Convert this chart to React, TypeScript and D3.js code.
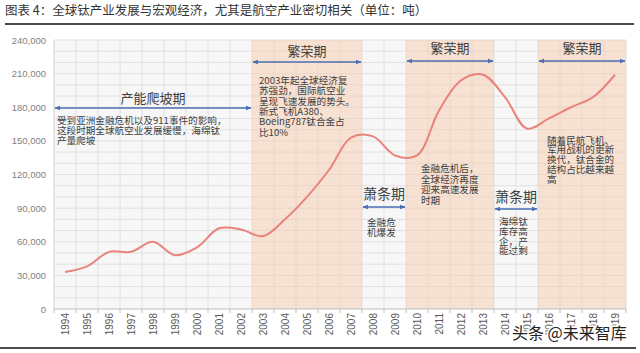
import React from 'react';
import * as d3 from 'd3';

const years = ['1994','1995','1996','1997','1998','1999','2000','2001','2002','2003','2004','2005','2006',
  '2007','2008','2009','2010','2011','2012','2013','2014','2015','2016','2017','2018','2019'];
const output = [33000, 38000, 51000, 51000, 60000, 48000, 55000, 72000, 71000, 65000, 80000, 100000, 124000,
  153000, 154000, 137000, 137000, 177000, 204000, 209000, 189000, 161000, 170000, 180000, 189000, 209000];
const yTicks = [0, 30000, 60000, 90000, 120000, 150000, 180000, 210000, 240000];

const periodNames = ['产能爬坡期', '繁荣期', '萧条期', '繁荣期', '萧条期', '繁荣期'];
const periodFrom = ['1994', '2003', '2008', '2010', '2014', '2016'];
const periodTo = ['2002', '2007', '2009', '2013', '2015', '2019'];
const periodBoom = [false, true, false, true, false, true];
const periodNotes = [
  ['受到亚洲金融危机以及911事件的影响，', '这段时期全球航空业发展缓慢，海绵钛', '产量爬坡'],
  ['2003年起全球经济复', '苏强劲，国际航空业', '呈现飞速发展的势头。', '新式飞机A380、', 'Boeing787钛合金占', '比10%'],
  ['金融危', '机爆发'],
  ['金融危机后，', '全球经济再度', '迎来高速发展', '时期'],
  ['海绵钛', '库存高', '企，产', '能过剩'],
  ['随着民航飞机、', '军用战机的更新', '换代，钛合金的', '结构占比越来越', '高'],
];

const title = '图表 4：全球钛产业发展与宏观经济，尤其是航空产业密切相关（单位：吨）';
const watermark = '头条 @未来智库';

// annotation block layout: title baseline, arrow y, note x, first note baseline, line height, title size
const layout = [
  { ty: 102.5, ay: 108, nx: 57, ny: 124, lh: 10.2, fs: 13 },
  { ty: 56, ay: 62, nx: 259, ny: 84, lh: 10.3, fs: 13 },
  { ty: 199, ay: 207, nx: 367, ny: 226, lh: 10.2, fs: 14 },
  { ty: 53, ay: 61, nx: 421, ny: 172, lh: 10.5, fs: 13 },
  { ty: 202, ay: 209, nx: 499, ny: 225, lh: 9.8, fs: 14 },
  { ty: 53, ay: 61, nx: 547, ny: 143.5, lh: 9.8, fs: 13 },
];

const FONT = '"Liberation Sans", Arial, "Noto Sans CJK SC", sans-serif';
const CJK = '"Noto Sans CJK SC", "Liberation Sans", sans-serif';

export default function App() {
  const W = 640, H = 353;
  const left = 54, right = 626, top = 40, bottom = 309;

  const x = d3.scaleBand<string>().domain(years).range([left, right]);
  const y = d3.scaleLinear().domain([0, 240000]).range([bottom, top]);
  const bw = x.bandwidth();

  const line = d3.line<number>()
    .x((_, i) => (x(years[i]) as number) + bw / 2)
    .y(d => y(d))
    .curve(d3.curveCatmullRom.alpha(0.5));

  const grid = d3.range(10000, 240001, 10000);
  const arrowColor = '#4a6fb3';

  return (
    <svg width={W} height={H} style={{ display: 'block', position: 'absolute', left: 0, top: 0 }}>
      <defs>
        <marker id="ah" viewBox="0 0 10 10" refX="9" refY="5" markerWidth="6" markerHeight="6"
          orient="auto-start-reverse" markerUnits="userSpaceOnUse">
          <path d="M0,1 L10,5 L0,9 z" fill={arrowColor} />
        </marker>
      </defs>
      <rect x={0} y={0} width={W} height={H} fill="#ffffff" />

      <text x={5} y={15} fontFamily={CJK} fontSize={12.5} fill="#333">{title}</text>
      <line x1={5} x2={634} y1={24} y2={24} stroke="#111" strokeWidth={1.5} />

      {/* plot background */}
      <rect x={left} y={top} width={right - left} height={bottom - top} fill="#f7f7f7" />

      {grid.map(v => (
        <line key={v} x1={left} x2={right} y1={y(v)} y2={y(v)} stroke="#e0e0e0" strokeWidth={1} />
      ))}
      {years.map(yr => (
        <line key={yr} x1={x(yr)! + bw} x2={x(yr)! + bw} y1={top} y2={bottom} stroke="#e0e0e0" strokeWidth={1} />
      ))}

      {periodFrom.map((f, i) => periodBoom[i] ? (
        <rect key={'s' + i} x={x(f)} y={top} width={x(periodTo[i])! + bw - x(f)!} height={bottom - top}
          fill="#f8cbad" opacity={0.5} />
      ) : null)}

      {/* axes */}
      <line x1={left} x2={right} y1={bottom} y2={bottom} stroke="#bfbfbf" />
      <line x1={left} x2={left} y1={top} y2={bottom} stroke="#d0d0d0" />
      {years.map(yr => (
        <line key={'t' + yr} x1={x(yr)!} x2={x(yr)!} y1={bottom} y2={bottom + 4} stroke="#bfbfbf" />
      ))}
      <line x1={right} x2={right} y1={bottom} y2={bottom + 4} stroke="#bfbfbf" />
      {yTicks.map(v => (
        <text key={v} x={46} y={y(v) + 3.5} textAnchor="end" fontFamily={FONT} fontSize={9.5} fill="#7f7f7f">
          {d3.format(',')(v)}
        </text>
      ))}
      {years.map(yr => (
        <text key={'l' + yr} transform={`translate(${x(yr)! + bw / 2 + 3.5},${bottom + 4}) rotate(-90)`}
          textAnchor="end" fontFamily={FONT} fontSize={10} fill="#595959">{yr}</text>
      ))}

      <path d={line(output) || ''} fill="none" stroke="#e9837c" strokeWidth={2} />

      {/* annotations */}
      {periodNames.map((name, i) => {
        const L = layout[i];
        const x0 = x(periodFrom[i])!;
        const x1 = x(periodTo[i])! + bw;
        return (
          <g key={'p' + i}>
            <text x={(x0 + x1) / 2} y={L.ty} textAnchor="middle" fontFamily={CJK} fontSize={L.fs}
              fill="#404040">{name}</text>
            <line x1={x0 + 1} x2={x1 - 1} y1={L.ay} y2={L.ay} stroke={arrowColor} strokeWidth={1.6}
              markerStart="url(#ah)" markerEnd="url(#ah)" />
            {periodNotes[i].map((t, j) => (
              <text key={j} x={L.nx} y={L.ny + j * L.lh} fontFamily={CJK} fontSize={9.6} fill="#404040">{t}</text>
            ))}
          </g>
        );
      })}

      <line x1={0} x2={636} y1={348} y2={348} stroke="#111" strokeWidth={1.5} />
      <text x={512} y={339} fontFamily={CJK} fontSize={16} fill="#222" stroke="#fff" strokeWidth={3}
        style={{ paintOrder: 'stroke' }}>{watermark}</text>
    </svg>
  );
}
